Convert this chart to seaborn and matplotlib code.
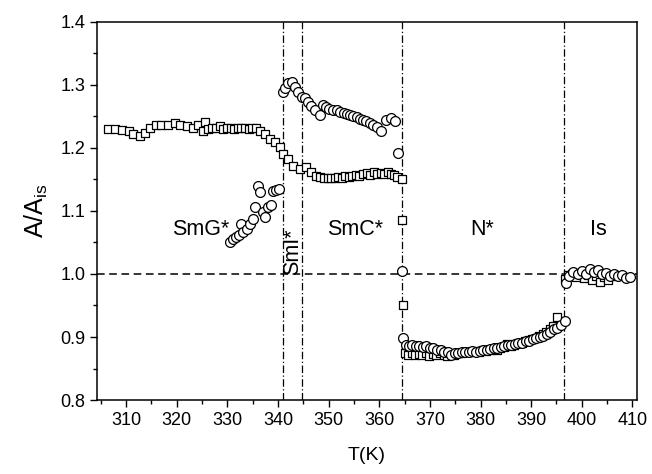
import matplotlib
matplotlib.use("Agg")
import matplotlib.pyplot as plt
import seaborn as sns
import pandas as pd
from matplotlib.ticker import MultipleLocator

# ---------------- data ----------------
sq_T = [306.5, 307.8, 309.2, 310.5, 311.4, 312.8, 313.7, 314.7, 316.0, 317.0,
        318.3, 319.7, 320.6, 322.0, 323.3, 324.3, 325.3, 325.6, 326.2, 327.0,
        327.8, 328.5, 329.2, 330.0, 330.7, 331.4, 332.1, 332.8, 333.5, 334.2,
        334.9, 335.6, 336.4, 337.4, 338.4, 339.4, 340.4, 341.0, 342.0, 343.0,
        344.3, 345.6, 346.6, 347.6, 348.4, 349.1, 349.8, 350.5, 351.2, 351.9,
        352.6, 353.3, 354.0, 354.7, 355.4, 356.1, 356.8, 357.5, 358.2, 358.9,
        359.6, 360.3, 361.0, 361.7, 362.4, 363.0, 363.6, 364.5, 364.5, 364.7,
        365.1, 365.7, 366.4, 367.1, 367.8, 368.5, 369.2, 369.9, 370.6, 371.3,
        372.0, 372.7, 373.4, 374.1, 374.8, 375.5, 376.2, 376.9, 377.6, 378.3,
        379.0, 379.7, 380.4, 381.1, 381.8, 382.5, 383.2, 383.9, 384.6, 385.3,
        386.0, 386.7, 387.4, 388.1, 388.8, 389.5, 390.2, 390.9, 391.6, 392.3,
        393.0, 393.7, 394.4, 395.1, 396.6, 397.2, 398.0, 398.8, 399.6, 400.4,
        401.2, 402.0, 402.8, 403.6, 404.4, 405.2, 405.9]
sq_A = [1.230, 1.230, 1.229, 1.226, 1.222, 1.219, 1.224, 1.231, 1.236, 1.236,
        1.237, 1.239, 1.237, 1.234, 1.232, 1.236, 1.227, 1.241, 1.230, 1.232,
        1.231, 1.234, 1.230, 1.231, 1.232, 1.230, 1.231, 1.232, 1.231, 1.230,
        1.232, 1.231, 1.227, 1.222, 1.214, 1.209, 1.201, 1.190, 1.182, 1.172,
        1.166, 1.169, 1.161, 1.156, 1.154, 1.153, 1.153, 1.152, 1.153, 1.154,
        1.153, 1.155, 1.154, 1.156, 1.157, 1.155, 1.158, 1.160, 1.157, 1.161,
        1.159, 1.160, 1.158, 1.161, 1.159, 1.157, 1.154, 1.150, 1.086, 0.951,
        0.874, 0.872, 0.874, 0.871, 0.873, 0.872, 0.874, 0.870, 0.873, 0.871,
        0.874, 0.872, 0.870, 0.873, 0.871, 0.874, 0.875, 0.876, 0.877, 0.876,
        0.878, 0.877, 0.879, 0.878, 0.880, 0.881, 0.880, 0.883, 0.884, 0.889,
        0.886, 0.888, 0.890, 0.891, 0.893, 0.895, 0.897, 0.899, 0.902, 0.905,
        0.908, 0.912, 0.918, 0.932, 0.992, 0.998, 1.000, 0.995, 1.002, 0.993,
        0.998, 0.990, 0.996, 0.988, 0.995, 0.990, 0.996]

ci_T = [330.5, 331.2, 331.8, 332.4, 332.8, 333.1, 333.8, 334.5, 335.0, 335.4,
        336.1, 336.5, 337.1, 337.5, 338.1, 338.6, 339.1, 339.7, 340.3,
        341.0, 341.4, 342.0, 342.7, 343.3, 344.0, 344.7, 345.3, 346.0, 346.6,
        347.3, 348.3, 348.9, 349.5, 350.1, 350.8, 351.6, 352.3, 353.0, 353.6,
        354.2, 354.9, 355.6, 356.2, 356.8, 357.4, 358.1, 358.8, 359.5, 360.4,
        361.4, 362.4, 363.1, 363.7, 364.4,
        364.6, 365.2, 365.8, 366.5, 367.2, 367.9, 368.6, 369.3, 370.0, 370.7,
        371.4, 372.1, 372.8, 373.5, 374.2, 374.9, 375.6, 376.3, 377.0, 377.7,
        378.4, 379.1, 379.8, 380.5, 381.2, 381.9, 382.6, 383.3, 384.0, 384.7,
        385.4, 386.1, 386.8, 387.5, 388.2, 388.9, 389.6, 390.3, 391.0, 391.7,
        392.4, 393.1, 393.8, 394.5, 395.2, 395.9, 396.6,
        396.9, 397.5, 398.3, 399.2, 400.0, 400.8, 401.6, 402.4, 403.2, 404.0,
        404.8, 405.6, 406.4, 407.2, 408.0, 408.8, 409.6]
ci_A = [1.051, 1.055, 1.059, 1.062, 1.080, 1.067, 1.071, 1.080, 1.087, 1.107,
        1.139, 1.130, 1.099, 1.090, 1.107, 1.110, 1.131, 1.133, 1.135,
        1.289, 1.295, 1.303, 1.305, 1.297, 1.289, 1.281, 1.279, 1.273, 1.266,
        1.260, 1.252, 1.268, 1.265, 1.262, 1.260, 1.260, 1.257, 1.255, 1.254,
        1.252, 1.250, 1.249, 1.246, 1.244, 1.242, 1.240, 1.237, 1.233, 1.226,
        1.244, 1.247, 1.242, 1.192, 1.005,
        0.898, 0.887, 0.886, 0.887, 0.885, 0.886, 0.884, 0.885, 0.883, 0.882,
        0.880, 0.879, 0.877, 0.876, 0.872, 0.874, 0.875, 0.876, 0.877, 0.876,
        0.878, 0.877, 0.878, 0.879, 0.880, 0.881, 0.882, 0.883, 0.884, 0.886,
        0.887, 0.888, 0.889, 0.890, 0.891, 0.893, 0.894, 0.897, 0.898, 0.900,
        0.902, 0.905, 0.908, 0.912, 0.915, 0.919, 0.925,
        0.986, 0.997, 1.003, 1.000, 1.005, 1.000, 1.008, 1.003, 1.006, 1.000,
        1.002, 0.997, 1.000, 0.996, 0.998, 0.994, 0.995]

phase_bounds = [341.0, 344.8, 364.5, 396.4]
phase_labels = ["SmG*", "SmI*", "SmC*", "N*", "Is"]
phase_label_T = [324.8, 342.9, 355.2, 380.3, 403.3]
phase_label_A = [1.07, 1.036, 1.07, 1.07, 1.07]
x_ticks = [310, 320, 330, 340, 350, 360, 370, 380, 390, 400, 410]
y_ticks = [0.8, 0.9, 1.0, 1.1, 1.2, 1.3, 1.4]

# ---------------- plot ----------------
sns.set_theme(style="ticks")
plt.rcParams['font.family'] = ['Liberation Sans', 'DejaVu Sans']
plt.rcParams['mathtext.fontset'] = 'custom'
plt.rcParams['mathtext.rm'] = 'Liberation Sans'
plt.rcParams['mathtext.it'] = 'Liberation Sans'

fig = plt.figure(figsize=(6.52, 4.74), dpi=100)
ax = fig.add_axes([0.149, 0.156, 0.828, 0.798])

df_sq = pd.DataFrame({"T": sq_T, "A": sq_A})
df_ci = pd.DataFrame({"T": ci_T, "A": ci_A})

ax.axhline(1.0, color="black", lw=1.1, ls=(0, (5, 3)), zorder=1)
for xb in phase_bounds:
    ax.axvline(xb, color="black", lw=0.9, ls=(0, (6, 2, 1, 2)), zorder=1)

sns.scatterplot(data=df_sq, x="T", y="A", marker="s", s=36, facecolor="white",
                edgecolor="black", linewidth=0.9, ax=ax, zorder=3)
sns.scatterplot(data=df_ci, x="T", y="A", marker="o", s=50, facecolor="white",
                edgecolor="black", linewidth=0.9, ax=ax, zorder=3)

for lab, tx, ty in zip(phase_labels, phase_label_T, phase_label_A):
    rot = 90 if lab == "SmI*" else 0
    ax.text(tx, ty, lab, ha="center", va="center", fontsize=15.5, rotation=rot,
            color="black")

ax.set_xlim(304.3, 410.9)
ax.set_ylim(0.8, 1.4)
ax.set_xticks(x_ticks)
ax.set_yticks(y_ticks)
ax.set_yticklabels([f"{v:.1f}" for v in y_ticks])
ax.xaxis.set_minor_locator(MultipleLocator(5))
ax.yaxis.set_minor_locator(MultipleLocator(0.05))
ax.tick_params(which="major", direction="out", length=5, width=1.0,
               labelsize=13, color="black", labelcolor="black")
ax.tick_params(which="minor", direction="out", length=3, width=1.0, color="black")
for sp in ax.spines.values():
    sp.set_visible(True)
    sp.set_linewidth(1.1)
    sp.set_color("black")

ax.set_xlabel("T(K)", fontsize=14, labelpad=13, color="black")
ax.set_ylabel(r"A/A$_{\rm is}$", fontsize=18, labelpad=7, color="black")

fig.savefig("out.png", dpi=100, facecolor="white")
